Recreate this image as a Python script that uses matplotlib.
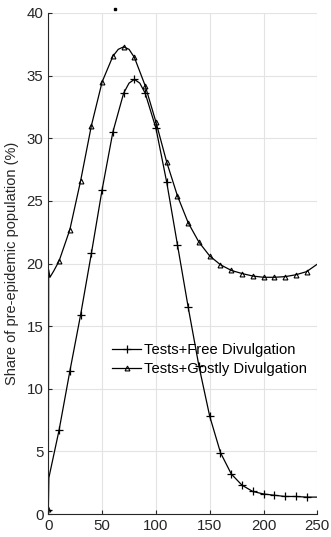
import numpy as np
import matplotlib
matplotlib.use('Agg')
import matplotlib.pyplot as plt

plt.rcParams['font.family'] = ['Liberation Sans', 'DejaVu Sans']

# values
days_free = [0, 0.5, 10, 20, 30, 40, 50, 60, 70, 75, 80, 85, 90, 100, 110, 120, 130, 140,
             150, 160, 170, 180, 190, 200, 210, 220, 230, 240, 250]
share_free = [0.3, 2.9, 6.7, 11.4, 15.9, 20.8, 25.9, 30.5, 33.6, 34.4, 34.7, 34.4, 33.6, 30.8,
              26.5, 21.5, 16.5, 11.8, 7.8, 4.9, 3.2, 2.3, 1.8, 1.6, 1.5, 1.4, 1.4, 1.35, 1.35]
mark_free = [0, 10, 20, 30, 40, 50, 60, 70, 80, 90, 100, 110, 120, 130, 140,
             150, 160, 170, 180, 190, 200, 210, 220, 230, 240]

days_cost = [0, 0.3, 1.5, 5, 10, 20, 30, 40, 50, 60, 65, 70, 75, 80, 90, 100, 110, 120, 130,
             140, 150, 160, 170, 180, 190, 200, 210, 220, 230, 240, 250]
share_cost = [0.4, 19.5, 18.9, 19.4, 20.2, 22.7, 26.6, 31.0, 34.5, 36.55, 37.1, 37.3, 37.1,
              36.45, 34.2, 31.3, 28.1, 25.4, 23.25, 21.7, 20.6, 19.9, 19.45, 19.2, 19.0, 18.9,
              18.9, 18.95, 19.1, 19.35, 19.95]
mark_cost = mark_free

stray_x, stray_y = [62], [40.35]

labels = ["Tests+Free Divulgation", "Tests+Gostly Divulgation"]

fig = plt.figure(figsize=(3.31, 5.37), dpi=100)
ax = fig.add_axes([0.146, 0.0428, 0.8127, 0.933])

ink = '#262626'
idx_f = [days_free.index(d) for d in mark_free]
idx_c = [days_cost.index(d) for d in mark_cost]
ax.plot(days_free, share_free, color='black', lw=0.9, marker='+', ms=6, mew=0.9,
        markevery=idx_f, label=labels[0])
ax.plot(days_cost, share_cost, color='black', lw=0.9, marker='^', ms=3.5, mew=0.8,
        mfc='none', markevery=idx_c, label=labels[1])
ax.plot(stray_x, stray_y, ls='none', marker='s', ms=1.5, color='black', clip_on=False)

ax.set_xlim(0, 250)
ax.set_ylim(0, 40)
ax.set_xticks(range(0, 251, 50))
ax.set_yticks(range(0, 41, 5))
ax.grid(True, color='#e3e3e3', lw=0.8)
ax.set_axisbelow(True)
for s in ['top', 'right']:
    ax.spines[s].set_visible(False)
for s in ['left', 'bottom']:
    ax.spines[s].set_color(ink)
    ax.spines[s].set_linewidth(0.8)
ax.tick_params(direction='in', length=3, colors=ink, labelsize=10.8, width=0.8)
ax.set_ylabel("Share of pre-epidemic population (%)", fontsize=10.5, color=ink)
ax.yaxis.set_label_coords(-0.108, 0.5)

ax.legend(loc='center left', bbox_to_anchor=(0.215, 0.308), frameon=False, fontsize=10.6,
          handlelength=2.0, handletextpad=0.2, labelspacing=0.35, borderaxespad=0)

fig.savefig('out.png', dpi=100)
